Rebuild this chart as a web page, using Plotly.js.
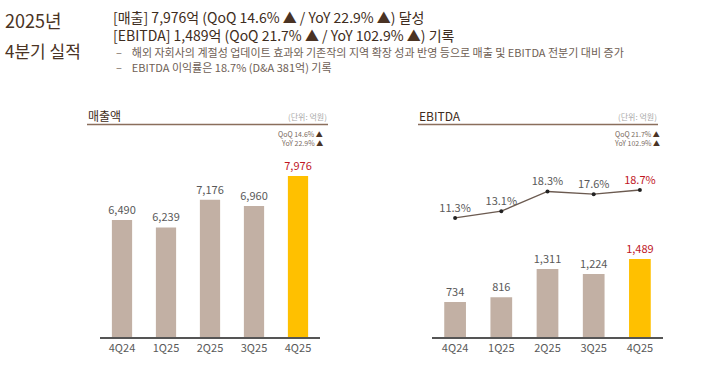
<!DOCTYPE html>
<html>
<head>
<meta charset="utf-8">
<script src="https://cdn.plot.ly/plotly-3.0.1.min.js"></script>
<style>html,body{margin:0;padding:0;background:#fff;}#chart{width:720px;height:390px;}</style>
</head>
<body>
<div id="chart"></div>
<script>
// ---- data ----
const quarters = ['4Q24', '1Q25', '2Q25', '3Q25', '4Q25'];
const revenue = [6490, 6239, 7176, 6960, 7976];
const ebitda = [734, 816, 1311, 1224, 1489];
const ebitdaMargin = [11.3, 13.1, 18.3, 17.6, 18.7];

const headline1 = '[매출] 7,976억 (QoQ 14.6% ▲ / YoY 22.9% ▲) 달성';
const headline2 = '[EBITDA] 1,489억 (QoQ 21.7% ▲ / YoY 102.9% ▲) 기록';
const bullet1 = '해외 자회사의 계절성 업데이트 효과와 기존작의 지역 확장 성과 반영 등으로 매출 및 EBITDA 전분기 대비 증가';
const bullet2 = 'EBITDA 이익률은 18.7% (D&A 381억) 기록';
const revQoQ = 'QoQ 14.6%', revYoY = 'YoY 22.9%';
const ebQoQ = 'QoQ 21.7%', ebYoY = 'YoY 102.9%';

// ---- styles ----
const W = 720, H = 390;
const FONT = '"Noto Sans CJK KR", "Noto Sans", sans-serif';
const BAR = '#c2b0a4', HIGHLIGHT = '#ffc000';
const RED = '#c0161f', GRAY = '#595959', DARK = '#3e2c20';
const last = quarters.length - 1;
const barColors = quarters.map((q, i) => i === last ? HIGHLIGHT : BAR);
const labelColors = quarters.map((q, i) => i === last ? RED : GRAY);

const px = x => x / W;
const py = y => 1 - y / H;

const yBottom = py(337), yTop = py(150);

const traces = [
  {
    type: 'bar', x: quarters, y: revenue, xaxis: 'x', yaxis: 'y',
    marker: {color: barColors}, width: 0.46,
    texttemplate: '%{y:,}', textposition: 'outside', cliponaxis: false,
    constraintext: 'none',
    textfont: {family: FONT, size: 11, color: labelColors},
    hoverinfo: 'skip'
  },
  {
    type: 'bar', x: quarters, y: ebitda, xaxis: 'x2', yaxis: 'y2',
    marker: {color: barColors}, width: 0.47,
    texttemplate: '%{y:,}', textposition: 'outside', cliponaxis: false,
    constraintext: 'none',
    textfont: {family: FONT, size: 11, color: labelColors},
    hoverinfo: 'skip'
  },
  {
    type: 'scatter', mode: 'lines+markers+text', x: quarters, y: ebitdaMargin,
    xaxis: 'x2', yaxis: 'y3',
    line: {color: '#6b5a50', width: 1.3},
    marker: {color: '#222', size: 4},
    text: ebitdaMargin.map(v => v.toFixed(1) + '%'),
    textposition: 'top center', cliponaxis: false,
    textfont: {family: FONT, size: 11, color: labelColors},
    hoverinfo: 'skip'
  }
];

const ann = (x, y, text, size, color, xanchor) => ({
  xref: 'paper', yref: 'paper', x: px(x), y: py(y), text: text,
  showarrow: false, xanchor: xanchor || 'left', yanchor: 'middle',
  align: xanchor || 'left', borderpad: 0,
  font: {family: FONT, size: size, color: color}
});
const tri = '<span style="color:#4a3324">▲</span>';
const dash = '<span style="color:#7a6a60">–</span>\u00A0\u00A0\u00A0\u00A0';

const layout = {
  width: W, height: H,
  margin: {l: 0, r: 0, t: 0, b: 0},
  paper_bgcolor: '#fff', plot_bgcolor: '#fff',
  showlegend: false,
  font: {family: FONT, color: GRAY},
  xaxis: {
    domain: [px(100), px(320)], anchor: 'y', range: [-0.5, 4.5],
    showline: true, linecolor: '#555', linewidth: 1.5, ticks: '',
    tickfont: {family: FONT, size: 11, color: GRAY}
  },
  yaxis: {
    domain: [yBottom, yTop], range: [2539, 8854],
    visible: false, showgrid: false, zeroline: false
  },
  xaxis2: {
    domain: [px(432), px(663)], anchor: 'y2', range: [-0.5, 4.5],
    showline: true, linecolor: '#555', linewidth: 1.5, ticks: '',
    tickfont: {family: FONT, size: 11, color: GRAY}
  },
  yaxis2: {
    domain: [yBottom, yTop], range: [119, 3403], anchor: 'x2',
    visible: false, showgrid: false, zeroline: false
  },
  yaxis3: {
    overlaying: 'y2', anchor: 'x2', range: [-20.2, 29.28],
    visible: false, showgrid: false, zeroline: false
  },
  shapes: [
    {type: 'line', xref: 'paper', yref: 'paper', x0: px(87), x1: px(328), y0: py(124.5), y1: py(124.5), line: {color: '#8a6e5c', width: 1.5}},
    {type: 'line', xref: 'paper', yref: 'paper', x0: px(418), x1: px(658), y0: py(124.5), y1: py(124.5), line: {color: '#8a6e5c', width: 1.5}}
  ],
  annotations: [
    ann(4, 20, '2025년', 18, '#4a3324'),
    ann(4, 51, '4분기 실적', 17, '#4a3324'),
    ann(112, 26.3, headline1.replace(/▲/g, tri) + '<br>' + headline2.replace(/▲/g, tri), 14, DARK),
    ann(115, 52.5, dash + bullet1, 11, '#6e5e54'),
    ann(115, 67, dash + bullet2, 11, '#6e5e54'),
    ann(87, 115, '매출액', 12, DARK),
    ann(328, 116, '(단위: 억원)', 8, '#a8a8a8', 'right'),
    ann(324, 133.5, revQoQ + ' ' + tri, 7, '#7a6a60', 'right'),
    ann(324, 142.5, revYoY + ' ' + tri, 7, '#7a6a60', 'right'),
    ann(418, 115, 'EBITDA', 12, DARK),
    ann(658, 116, '(단위: 억원)', 8, '#a8a8a8', 'right'),
    ann(661, 133.5, ebQoQ + ' ' + tri, 7, '#7a6a60', 'right'),
    ann(661, 142.5, ebYoY + ' ' + tri, 7, '#7a6a60', 'right')
  ]
};

Plotly.newPlot('chart', traces, layout, {displayModeBar: false, staticPlot: true});
</script>
</body>
</html>
